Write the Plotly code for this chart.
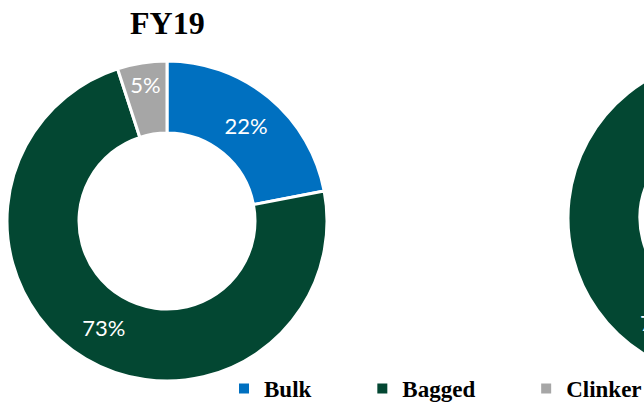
import plotly.graph_objects as go

categories = ["Bulk", "Bagged", "Clinker"]
fy19_values = [22, 73, 5]
fy20_values = [23, 72, 5]
titles = ["FY19", "FY20"]
colors = ["#0070C0", "#034732", "#A6A6A6"]

W, H = 895, 410
PAD = "\u00a0" * 8
legend_names = [c + PAD for c in categories]

def px_dom(cx, cy, r):
    return dict(x=[(cx - r) / W, (cx + r) / W], y=[(H - cy - r) / H, (H - cy + r) / H])

fig = go.Figure()
for vals, dom, show in [(fy19_values, px_dom(167, 221, 160), True),
                        (fy20_values, px_dom(728, 218, 160), False)]:
    fig.add_trace(go.Pie(
        labels=legend_names, values=vals, hole=0.55, sort=False,
        direction="clockwise", rotation=0, domain=dom,
        marker=dict(colors=colors, line=dict(color="white", width=3)),
        texttemplate="%{value}%", textposition="inside",
        insidetextorientation="horizontal",
        textfont=dict(color="white", size=22, family="Lato"),
        hoverinfo="label+percent", showlegend=show,
    ))

for t, cx in zip(titles, [167, 728]):
    fig.add_annotation(text="<b>" + t + "</b>", x=cx / W, y=(H - 23) / H,
                       xref="paper", yref="paper", showarrow=False,
                       xanchor="center", yanchor="middle",
                       font=dict(family="Liberation Serif", size=32, color="black"))

fig.update_layout(
    width=W, height=H, margin=dict(l=0, r=0, t=0, b=0),
    paper_bgcolor="white", plot_bgcolor="white",
    legend=dict(orientation="h", x=224 / W, xanchor="left",
                y=0, yanchor="bottom", bgcolor="rgba(0,0,0,0)",
                font=dict(family="Liberation Serif", size=23, color="black",
                          weight="bold"),
                itemsizing="constant", traceorder="normal"),
)

fig.write_html("out.html", post_script=(
    "document.body.style.margin='0';"
    "document.body.style.overflow='hidden';"
    "document.documentElement.style.overflow='hidden';"))
